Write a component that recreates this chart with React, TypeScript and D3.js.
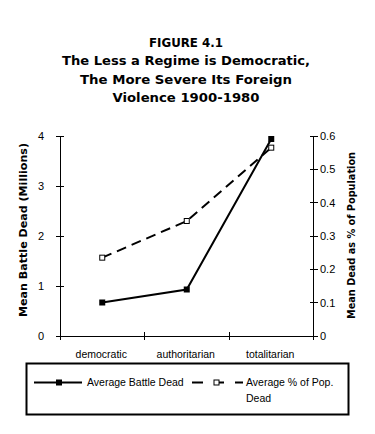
import React from "react";
import * as d3 from "d3";

const categories = ["democratic", "authoritarian", "totalitarian"];
const battleDead = [0.67, 0.93, 3.94];
const pctPopDead = [0.235, 0.345, 0.565];
const leftTicks = [0, 1, 2, 3, 4];
const rightTicks = [0, 0.1, 0.2, 0.3, 0.4, 0.5, 0.6];
const titleLines = [
  "FIGURE 4.1",
  "The Less a Regime is Democratic,",
  "The More Severe Its Foreign",
  "Violence 1900-1980",
];

export default function App() {
  const W = 375, H = 434;
  const x0 = 60, x1 = 313.5, yTop = 136, yBot = 336;
  const x = d3.scaleBand().domain(categories).range([x0, x1]);
  const yL = d3.scaleLinear().domain([0, 4]).range([yBot, yTop]);
  const yR = d3.scaleLinear().domain([0, 0.6]).range([yBot, yTop]);
  const cx = (c: string) => (x(c) as number) + x.bandwidth() / 2;
  const lineL = d3.line<number>().x((_, i) => cx(categories[i])).y((d) => yL(d));
  const lineR = d3.line<number>().x((_, i) => cx(categories[i])).y((d) => yR(d));
  const tickFont = "'Liberation Sans', Arial, sans-serif";
  const boldFont = "'DejaVu Sans', sans-serif";
  const titleW = [74, 248, 212, 147];
  return (
    <svg width={W} height={H} style={{ position: "absolute", left: 0, top: 0, background: "#fff" }}>
      <rect width={W} height={H} fill="#fff" />
      {titleLines.map((t, i) => (
        <text key={i} x={186} y={47 + i * 18.4} textAnchor="middle" fontFamily={boldFont}
          fontWeight="bold" fontSize={12} textLength={titleW[i]} lengthAdjust="spacingAndGlyphs">{t}</text>
      ))}
      {/* axes */}
      <g stroke="#000" strokeWidth={1} shapeRendering="crispEdges">
        <line x1={x0} x2={x0} y1={yTop} y2={yBot} />
        <line x1={x1} x2={x1} y1={yTop} y2={yBot} />
        <line x1={x0} x2={x1} y1={yBot} y2={yBot} />
        {leftTicks.map((t) => (
          <line key={"l" + t} x1={x0 - 4} x2={x0 + 4} y1={yL(t)} y2={yL(t)} />
        ))}
        {rightTicks.map((t) => (
          <line key={"r" + t} x1={x1 - 4} x2={x1 + 4} y1={yR(t)} y2={yR(t)} />
        ))}
        {categories.map((c, i) => (
          <line key={"c" + i} x1={(x(c) as number) + x.bandwidth()} x2={(x(c) as number) + x.bandwidth()} y1={yBot - 4} y2={yBot + 4} />
        ))}
        <line x1={x0} x2={x0} y1={yBot} y2={yBot + 4} />
      </g>
      {leftTicks.map((t) => (
        <text key={"lt" + t} x={44} y={yL(t) + 4} textAnchor="end" fontFamily={tickFont} fontSize={11}>{d3.format("d")(t)}</text>
      ))}
      {rightTicks.map((t) => (
        <text key={"rt" + t} x={320} y={yR(t) + 4} textAnchor="start" fontFamily={tickFont} fontSize={11}>{t === 0 ? "0" : d3.format(".1f")(t)}</text>
      ))}
      {categories.map((c) => (
        <text key={c} x={cx(c) - 1} y={358} textAnchor="middle" fontFamily={tickFont} fontSize={10.5}>{c}</text>
      ))}
      <text transform={`translate(27,230) rotate(-90)`} textAnchor="middle" fontFamily={boldFont}
        fontWeight="bold" fontSize={10} textLength={174} lengthAdjust="spacingAndGlyphs">Mean Battle Dead (Millions)</text>
      <text transform={`translate(355,235.5) rotate(-90)`} textAnchor="middle" fontFamily={boldFont}
        fontWeight="bold" fontSize={10} textLength={167} lengthAdjust="spacingAndGlyphs">Mean Dead as % of Population</text>
      {/* series */}
      <path d={lineR(pctPopDead) as string} fill="none" stroke="#000" strokeWidth={2} strokeDasharray="10,6" />
      <path d={lineL(battleDead) as string} fill="none" stroke="#000" strokeWidth={2} />
      {pctPopDead.map((v, i) => (
        <rect key={"p" + i} x={cx(categories[i]) - 2.5} y={yR(v) - 2.5} width={5} height={5} fill="#fff" stroke="#000" strokeWidth={1} />
      ))}
      {battleDead.map((v, i) => (
        <rect key={"b" + i} x={cx(categories[i]) - 3} y={yL(v) - 3} width={6} height={6} fill="#000" />
      ))}
      {/* legend */}
      <rect x={26.5} y={363.5} width={322} height={51} fill="none" stroke="#000" strokeWidth={2} />
      <line x1={34} x2={82} y1={382.5} y2={382.5} stroke="#000" strokeWidth={2} />
      <rect x={56} y={379.5} width={6} height={6} fill="#000" />
      <text x={87} y={386} fontFamily={tickFont} fontSize={10.5}>Average Battle Dead</text>
      <line x1={192} x2={243} y1={382.5} y2={382.5} stroke="#000" strokeWidth={2} strokeDasharray="11,15,6" />
      <rect x={214} y={380} width={5} height={5} fill="#fff" stroke="#000" strokeWidth={1} />
      <text x={246} y={386} fontFamily={tickFont} fontSize={10.5}>Average % of Pop.</text>
      <text x={246} y={402} fontFamily={tickFont} fontSize={10.5}>Dead</text>
    </svg>
  );
}
